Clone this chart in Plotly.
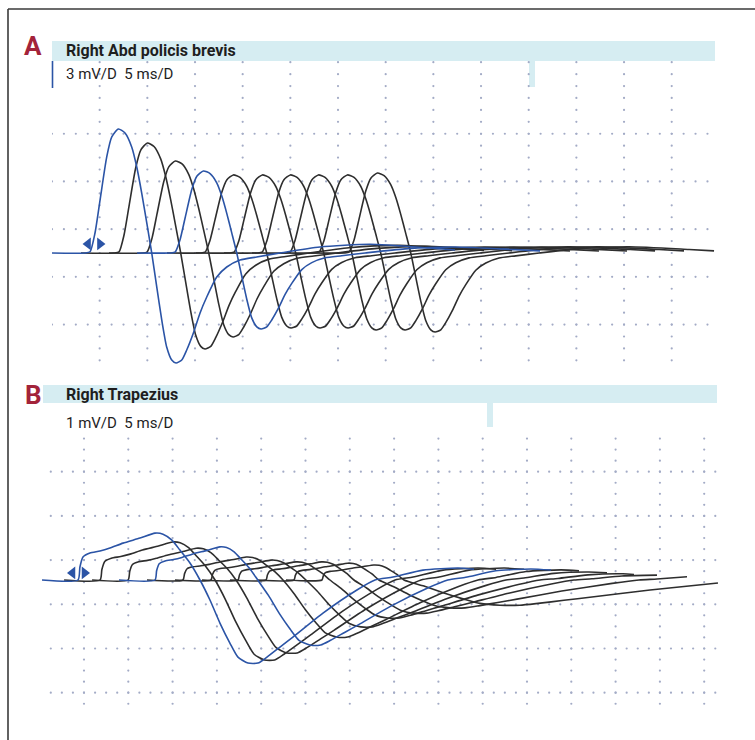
import plotly.graph_objects as go

W, H = 755, 740

# ---------------- Panel A : Right Abd policis brevis (3 mV/D, 5 ms/D) ----------------
# waveform of the first (blue) response, time from onset (ms) and amplitude (mV)
A_SHAPE_T = [-3.78, -0.31, 0.21, 0.73, 1.26, 1.96, 2.49, 3.18, 3.88, 4.58, 5.11, 5.63,
             6.16, 6.68, 7.21, 7.73, 8.25, 8.78, 9.23, 9.83, 10.35, 11.05, 11.75, 12.45,
             13.50, 14.55, 15.94, 17.69, 20.14, 24.33, 29.58, 35.87, 38.49]
A_SHAPE_V = [0, 0, 0.08, 1.26, 3.33, 6.04, 7.30, 7.80, 7.55, 6.67, 5.41, 3.77,
             1.89, 0, -2.14, -4.21, -5.91, -6.73, -6.92, -6.73, -6.10, -5.03, -3.77, -2.77,
             -1.51, -0.88, -0.44, -0.25, 0, 0.38, 0.55, 0.31, 0.19]
A_ONSET = [3.78, 6.82, 9.76, 12.70, 15.84, 18.88, 21.82, 24.76, 27.80, 30.95]   # ms
A_PEAK = [7.80, 6.92, 5.79, 5.16, 4.91, 4.91, 4.91, 4.91, 4.91, 5.03]           # mV
A_TROUGH = [6.92, 6.04, 5.28, 4.78, 4.72, 4.72, 4.72, 4.84, 4.84, 4.97]         # mV
A_STIM = [3.78, 5.03]
A_STIM_V = 0.57

# ---------------- Panel B : Right Trapezius (1 mV/D, 5 ms/D) ----------------
B_POS_F = [0, 0.016, 0.041, 0.098, 0.180, 0.262, 0.369, 0.508, 0.631, 0.697, 0.770, 0.836, 0.918, 1.0]
B_POS_V = [0, 0.277, 0.489, 0.574, 0.617, 0.681, 0.787, 0.894, 1.0, 0.979, 0.851, 0.638, 0.362, 0]
B_NEG_F = [0.057, 0.114, 0.171, 0.217, 0.274, 0.331, 0.383, 0.457, 0.531, 0.703, 0.897, 1.0]
B_NEG_V = [-0.241, -0.518, -0.759, -0.928, -1, -1, -0.928, -0.807, -0.687, -0.398, -0.120, 0]
B_OVER_DT = [2.03, 5.42, 9.37]
B_OVER_V = [0.25, 0.83, 1.0]
B_PRE = 4.06
B_LEN = 44.7
B_ONSET = [4.32, 6.81, 9.97, 13.01, 16.17, 19.33, 22.38, 25.54, 28.70, 31.86]
B_POS_DUR = [13.77, 12.98, 12.19, 11.60, 11.29, 10.72, 10.38, 9.93, 9.59, 9.26]
B_POS_AMP = [1.06, 0.86, 0.72, 0.75, 0.52, 0.45, 0.41, 0.41, 0.38, 0.34]
B_NEG_AMP = [1.88, 1.81, 1.65, 1.47, 1.29, 1.06, 0.86, 0.75, 0.63, 0.57]
B_NEG_DUR = [19.75, 20.32, 20.88, 21.45, 22.01, 22.57, 23.70, 24.83, 29.35, 39.50]
B_OVER_AMP = [0.27, 0.27, 0.27, 0.25, 0.23, 0.18, 0.14, 0.11, 0.09, 0.05]
B_STIM = [3.70, 5.06]
B_STIM_V = 0.16

BLUE_TRACES = [0, 3]

BLUE = "#2b54a6"
BLACK = "#2e2e2e"
DOT = "#a3abc6"
BAR = "#d6edf2"
RED = "#a3233a"
FONT = "Roboto, Lato, Liberation Sans, sans-serif"

# ---------------- geometry (pixels) ----------------
A_X0, A_DIV_X = 52.0, 47.67      # px of 0 ms, px per 5 ms
A_BASE, A_DIV_Y = 253.0, 47.7    # px of 0 mV, px per 3 mV
B_X0, B_DIV_X = 39.7, 44.3
B_BASE, B_DIV_Y = 580.0, 44.2    # px per 1 mV

def px(x):
    return x / W

def py(y):
    return 1 - y / H

A_top, A_bot, A_right = 30.0, 385.0, 722.0
B_top, B_bot, B_right = 375.0, 738.0, 752.0
a_xr = [0, (A_right - A_X0) / A_DIV_X * 5]
a_yr = [-(A_bot - A_BASE) / A_DIV_Y * 3, (A_BASE - A_top) / A_DIV_Y * 3]
b_xr = [0, (B_right - B_X0) / B_DIV_X * 5]
b_yr = [-(B_bot - B_BASE) / B_DIV_Y * 1, (B_BASE - B_top) / B_DIV_Y * 1]

fig = go.Figure()

def dots(xs, ys, xa, ya):
    fig.add_trace(go.Scatter(x=xs, y=ys, mode="markers", xaxis=xa, yaxis=ya,
                             marker=dict(size=2.2, color=DOT), hoverinfo="skip",
                             showlegend=False))

# grid A (dots every quarter division)
gx, gy = [], []
rowsA = [7.5, 4.5, 1.5, -1.5, -4.5]
for r in rowsA:
    for k in range(0, 56):
        gx.append(k * 1.25); gy.append(r)
for c in range(1, 14):
    for j in range(0, 26):
        gx.append(c * 5); gy.append(-6.75 + j * 0.75)
dots(gx, gy, "x", "y")

# grid B
gx, gy = [], []
rowsB = [2.45, 1.45, 0.45, -0.55, -1.55, -2.55]
for r in rowsB:
    for k in range(1, 62):
        gx.append(k * 1.25); gy.append(r)
for c in range(1, 16):
    for j in range(0, 25):
        gx.append(c * 5); gy.append(-2.80 + j * 0.25)
dots(gx, gy, "x2", "y2")

# traces A
def a_trace(i):
    ts, vs = [], []
    for t, v in zip(A_SHAPE_T, A_SHAPE_V):
        if v > 0 and t < 6.68:
            v = v * A_PEAK[i] / A_PEAK[0]
        elif t > 6.68:
            v = v * A_TROUGH[i] / A_TROUGH[0]
        ts.append(A_ONSET[i] + t); vs.append(v)
    return ts, vs

order = [i for i in range(10) if i not in BLUE_TRACES] + BLUE_TRACES
for i in order:
    ts, vs = a_trace(i)
    col = BLUE if i in BLUE_TRACES else BLACK
    fig.add_trace(go.Scatter(x=ts, y=vs, mode="lines", xaxis="x", yaxis="y",
                             line=dict(color=col, width=1.6, shape="spline", smoothing=0.6),
                             hoverinfo="skip", showlegend=False))

# traces B
def b_trace(i):
    on = B_ONSET[i]
    ts = [on - B_PRE]
    vs = [0]
    for f, v in zip(B_POS_F, B_POS_V):
        ts.append(on + f * B_POS_DUR[i]); vs.append(v * B_POS_AMP[i])
    z = on + B_POS_DUR[i]
    for f, v in zip(B_NEG_F, B_NEG_V):
        ts.append(z + f * B_NEG_DUR[i]); vs.append(v * B_NEG_AMP[i])
    r = z + B_NEG_DUR[i]
    for d, v in zip(B_OVER_DT, B_OVER_V):
        ts.append(r + d); vs.append(v * B_OVER_AMP[i])
    end = on + B_LEN
    out_t, out_v = [], []
    for t, v in zip(ts, vs):
        if t <= end:
            out_t.append(t); out_v.append(v)
    if out_t[-1] < end - 1:
        out_t.append(end); out_v.append(out_v[-1] * 0.9)
    return out_t, out_v

for i in order:
    ts, vs = b_trace(i)
    col = BLUE if i in BLUE_TRACES else BLACK
    fig.add_trace(go.Scatter(x=ts, y=vs, mode="lines", xaxis="x2", yaxis="y2",
                             line=dict(color=col, width=1.6, shape="spline", smoothing=0.6),
                             hoverinfo="skip", showlegend=False))

# stimulus markers
for xa, ya, st, sv in [("x", "y", A_STIM, A_STIM_V), ("x2", "y2", B_STIM, B_STIM_V)]:
    fig.add_trace(go.Scatter(x=st, y=[sv, sv], mode="markers", xaxis=xa, yaxis=ya,
                             marker=dict(symbol=["triangle-left", "triangle-right"], size=11,
                                         color=BLUE), hoverinfo="skip", showlegend=False))

shapes = []
# frame
shapes.append(dict(type="line", xref="paper", yref="paper", x0=px(8), x1=px(760), y0=py(9), y1=py(9),
                   line=dict(color="#3a3a3a", width=1.6)))
shapes.append(dict(type="line", xref="paper", yref="paper", x0=px(8), x1=px(8), y0=py(9), y1=py(745),
                   line=dict(color="#3a3a3a", width=1.6)))
# header bars
for (x0, x1, y0, y1) in [(52, 715, 41, 61), (529, 535, 61, 87), (43, 717, 385, 403), (487, 493, 403, 427)]:
    shapes.append(dict(type="rect", xref="paper", yref="paper", x0=px(x0), x1=px(x1), y0=py(y1), y1=py(y0),
                       fillcolor=BAR, line=dict(width=0), layer="below"))
# blue scale bar
shapes.append(dict(type="line", xref="paper", yref="paper", x0=px(52.5), x1=px(52.5), y0=py(61), y1=py(88),
                   line=dict(color=BLUE, width=1.6)))

ann = []
def text(x, y, s, size, color="#1e1e1e", bold=False):
    ann.append(dict(x=px(x), y=py(y), xref="paper", yref="paper", text=s, showarrow=False,
                    xanchor="left", yanchor="middle",
                    font=dict(family=FONT, size=size, color=color, weight="bold" if bold else "normal")))

text(22, 46, "A", 26, RED, True)
text(64, 51, "Right Abd policis brevis", 16, bold=True)
text(64, 74, "3 mV/D  5 ms/D", 15)
text(23, 395, "B", 26, RED, True)
text(64, 394, "Right Trapezius", 16, bold=True)
text(64, 423, "1 mV/D  5 ms/D", 15)

ax_common = dict(showgrid=False, zeroline=False, showticklabels=False, ticks="", showline=False, fixedrange=True)
fig.update_layout(
    width=W, height=H, margin=dict(l=0, r=0, t=0, b=0),
    paper_bgcolor="white", plot_bgcolor="rgba(0,0,0,0)",
    xaxis=dict(domain=[px(A_X0), px(A_right)], range=a_xr, **ax_common),
    yaxis=dict(domain=[py(A_bot), py(A_top)], range=a_yr, **ax_common),
    xaxis2=dict(domain=[px(B_X0), px(B_right)], range=b_xr, anchor="y2", **ax_common),
    yaxis2=dict(domain=[py(B_bot), py(B_top)], range=b_yr, anchor="x2", **ax_common),
    shapes=shapes, annotations=ann,
)

fig.write_html("out.html", config={"displayModeBar": False},
               post_script="document.body.style.margin='0';")
